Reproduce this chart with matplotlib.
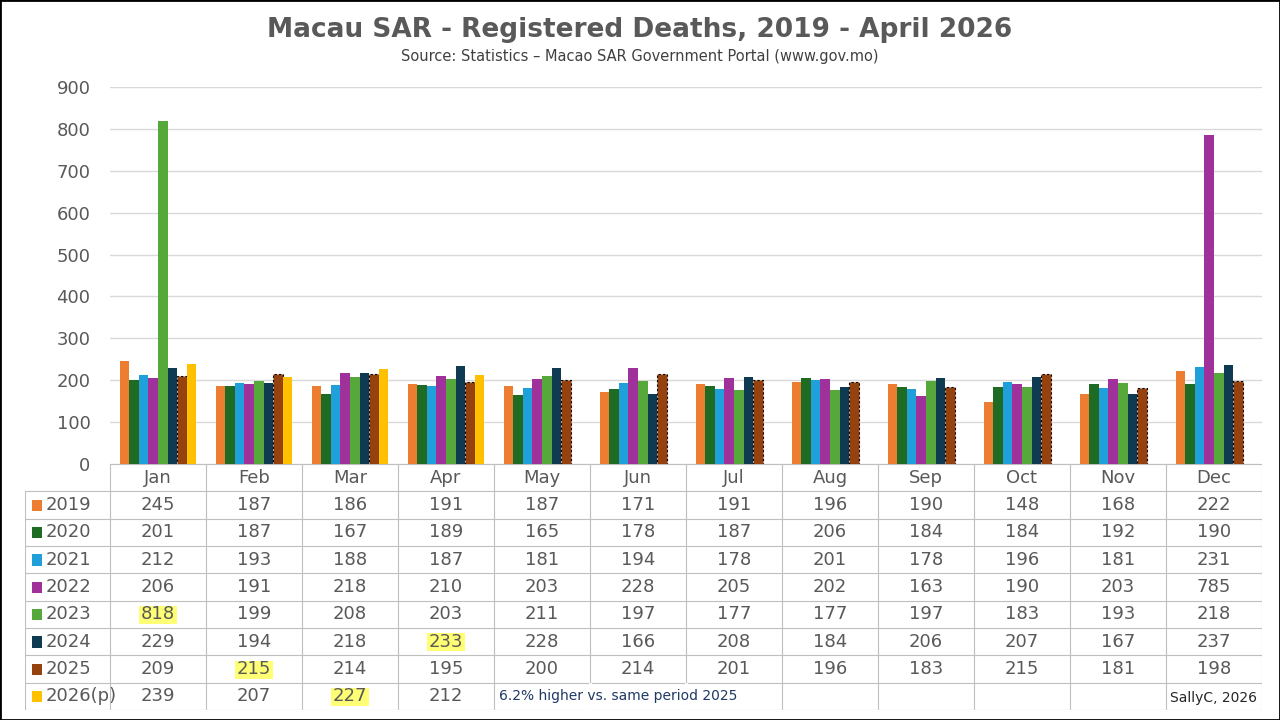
import numpy as np
import matplotlib.pyplot as plt
from matplotlib.patches import Rectangle

months = ["Jan", "Feb", "Mar", "Apr", "May", "Jun", "Jul", "Aug", "Sep", "Oct", "Nov", "Dec"]
years = ["2019", "2020", "2021", "2022", "2023", "2024", "2025", "2026(p)"]
d2019 = [245, 187, 186, 191, 187, 171, 191, 196, 190, 148, 168, 222]
d2020 = [201, 187, 167, 189, 165, 178, 187, 206, 184, 184, 192, 190]
d2021 = [212, 193, 188, 187, 181, 194, 178, 201, 178, 196, 181, 231]
d2022 = [206, 191, 218, 210, 203, 228, 205, 202, 163, 190, 203, 785]
d2023 = [818, 199, 208, 203, 211, 197, 177, 177, 197, 183, 193, 218]
d2024 = [229, 194, 218, 233, 228, 166, 208, 184, 206, 207, 167, 237]
d2025 = [209, 215, 214, 195, 200, 214, 201, 196, 183, 215, 181, 198]
d2026 = [239, 207, 227, 212]
series = [d2019, d2020, d2021, d2022, d2023, d2024, d2025, d2026]
colors = ["#ED7D31", "#1E6B24", "#1FA0DB", "#A0309A", "#55A839", "#0E3A52", "#96420F", "#FFC000"]
highlights = [(4, 0), (6, 1), (5, 3), (7, 2)]  # (series, month)

W, H = 1280, 720
fig = plt.figure(figsize=(12.8, 7.2), dpi=100)
fig.patches.append(Rectangle((0, 0), 1, 1, transform=fig.transFigure, fill=False, lw=2, ec="black"))

ax = fig.add_axes([110 / W, 1 - 464 / H, (1262 - 110) / W, (464 - 87) / H])
x = np.arange(12)
bw = 0.1
for i, s in enumerate(series):
    xs = x[:len(s)] + (i - 3.5) * bw
    if i == 6:
        ax.bar(xs, s, bw, color=colors[i], ec="black", lw=0.8, ls=(0, (2, 2)))
    else:
        ax.bar(xs, s, bw, color=colors[i])
ax.set_xlim(-0.5, 11.5)
ax.set_ylim(0, 900)
ax.set_yticks(range(0, 901, 100))
ax.tick_params(axis="y", length=0, labelsize=13, labelcolor="#595959", pad=14)
ax.set_xticks([])
ax.grid(axis="y", color="#D9D9D9", lw=1)
ax.set_axisbelow(True)
for sp in ax.spines.values():
    sp.set_visible(False)

fig.text(640 / W, 1 - 30 / H, "Macau SAR - Registered Deaths, 2019 - April 2026", ha="center", va="center",
         fontsize=19, fontweight="bold", color="#595959")
fig.text(640 / W, 1 - 57 / H, "Source: Statistics \u2013 Macao SAR Government Portal (www.gov.mo)", ha="center",
         va="center", fontsize=10.5, color="#404040")

# data table
lab = 0.885
tx = fig.add_axes([25 / W, 1 - 710 / H, (1262 - 25) / W, (710 - 464) / H])
tx.set_xlim(-0.5 - lab, 11.5)
tx.set_ylim(9, 0)
tx.axis("off")
lc = "#BFBFBF"
# header
for m in range(12):
    tx.text(m, 0.5, months[m], ha="center", va="center", fontsize=13, color="#595959")
for m in range(13):
    tx.plot([m - 0.5, m - 0.5], [0, 9], color=lc, lw=0.8)
tx.plot([-0.5 - lab, -0.5 - lab], [1, 9], color=lc, lw=0.8)
for r in range(1, 10):
    tx.plot([-0.5 - lab, 11.5], [r, r], color=lc, lw=0.8)
tx.plot([-0.5, 11.5], [0, 0], color=lc, lw=0.8)
# white-out internal borders of merged note cell (May-Jul, 2026 row)
for m in (5, 6):
    tx.plot([m - 0.5, m - 0.5], [8.05, 8.95], color="white", lw=2)
for (si, mi) in highlights:
    tx.add_patch(Rectangle((mi - 0.2, si + 1.2), 0.4, 0.65, color="#FFFF66", alpha=0.9, lw=0))
for i, s in enumerate(series):
    y = i + 1.5
    tx.add_patch(Rectangle((-0.5 - lab + 0.07, y - 0.2), 0.11, 0.42, color=colors[i], lw=0))
    tx.text(-0.5 - lab + 0.22, y, years[i], ha="left", va="center", fontsize=13, color="#595959")
    for m, v in enumerate(s):
        tx.text(m, y, str(v), ha="center", va="center", fontsize=13, color="#595959")
tx.text(3.55, 8.5, "6.2% higher vs. same period 2025", ha="left", va="center", fontsize=10, color="#1F3864")
tx.text(11.45, 8.55, "SallyC, 2026", ha="right", va="center", fontsize=10, color="#262626")

fig.savefig("out.png", dpi=100)
